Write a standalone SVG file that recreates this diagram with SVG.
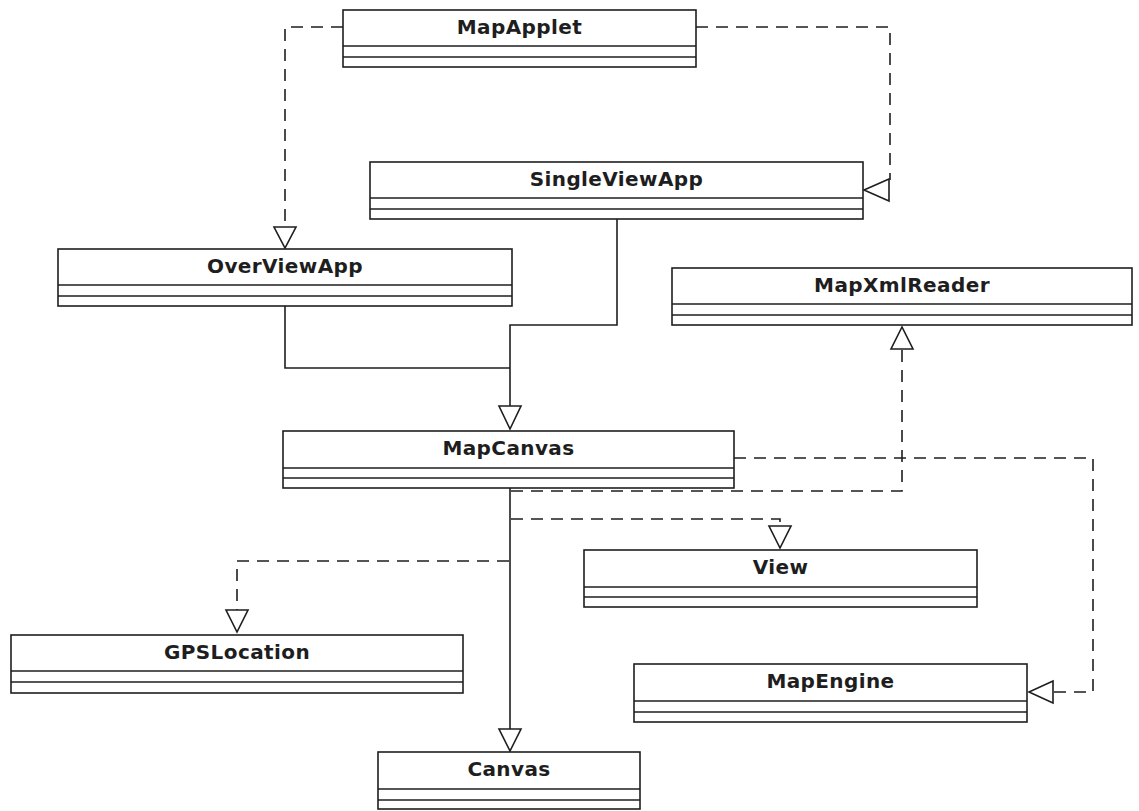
<svg xmlns="http://www.w3.org/2000/svg" width="1139" height="811" viewBox="0 0 1139 811">
<style>
.box{fill:#fff;stroke:#1e1e1e;stroke-width:1.6}
.sep{stroke:#1e1e1e;stroke-width:1.6}
.lbl{font-family:"DejaVu Sans",Verdana,sans-serif;font-weight:bold;font-size:20px;letter-spacing:0.4px;fill:#1e1e1e;text-anchor:middle}
.solid{fill:none;stroke:#1e1e1e;stroke-width:1.6}
.dash{fill:none;stroke:#1e1e1e;stroke-width:1.6;stroke-dasharray:12 8}
.head{fill:#fff;stroke:#1e1e1e;stroke-width:1.6;stroke-linejoin:miter}
</style>
<rect width="1139" height="811" fill="#fff"/>
<g id="connectors">
<path class="dash" d="M343,27 H285 V227"/>
<polygon class="head" points="274,227 296,227 285,248"/>
<path class="dash" d="M696,27 H890 V180"/>
<polygon class="head" points="889,179 889,201 864,190"/>
<path class="solid" d="M285,306 V368 H510"/>
<path class="solid" d="M617,219 V325 H510 V406"/>
<polygon class="head" points="499,406 521,406 510,429"/>
<path class="solid" d="M510,488 V729"/>
<polygon class="head" points="499,729 521,729 510,751"/>
<path class="dash" d="M511,491 H902 V349"/>
<polygon class="head" points="891,349 913,349 902,327"/>
<path class="dash" d="M734,458 H1093 V692 H1053"/>
<polygon class="head" points="1053,681 1053,703 1029,692"/>
<path class="dash" d="M511,519 H780 V526"/>
<polygon class="head" points="769,526 791,526 780,548"/>
<path class="dash" d="M509,561 H237 V610"/>
<polygon class="head" points="226,610 248,610 237,632"/>
</g>
<g id="MapApplet">
<rect class="box" x="343" y="10" width="353" height="57"/>
<line class="sep" x1="343" y1="46" x2="696" y2="46"/>
<line class="sep" x1="343" y1="57" x2="696" y2="57"/>
<text class="lbl" x="519.5" y="34">MapApplet</text>
</g>
<g id="SingleViewApp">
<rect class="box" x="370" y="162" width="493" height="57"/>
<line class="sep" x1="370" y1="198" x2="863" y2="198"/>
<line class="sep" x1="370" y1="209" x2="863" y2="209"/>
<text class="lbl" x="616.5" y="186">SingleViewApp</text>
</g>
<g id="OverViewApp">
<rect class="box" x="58" y="249" width="454" height="57"/>
<line class="sep" x1="58" y1="285" x2="512" y2="285"/>
<line class="sep" x1="58" y1="296" x2="512" y2="296"/>
<text class="lbl" x="285" y="273">OverViewApp</text>
</g>
<g id="MapXmlReader">
<rect class="box" x="672" y="268" width="460" height="57"/>
<line class="sep" x1="672" y1="304" x2="1132" y2="304"/>
<line class="sep" x1="672" y1="315" x2="1132" y2="315"/>
<text class="lbl" x="902" y="292">MapXmlReader</text>
</g>
<g id="MapCanvas">
<rect class="box" x="283" y="431" width="451" height="57"/>
<line class="sep" x1="283" y1="468" x2="734" y2="468"/>
<line class="sep" x1="283" y1="478" x2="734" y2="478"/>
<text class="lbl" x="508.5" y="455">MapCanvas</text>
</g>
<g id="View">
<rect class="box" x="584" y="550" width="393" height="57"/>
<line class="sep" x1="584" y1="587" x2="977" y2="587"/>
<line class="sep" x1="584" y1="597" x2="977" y2="597"/>
<text class="lbl" x="780.5" y="574">View</text>
</g>
<g id="GPSLocation">
<rect class="box" x="11" y="635" width="452" height="58"/>
<line class="sep" x1="11" y1="671" x2="463" y2="671"/>
<line class="sep" x1="11" y1="682" x2="463" y2="682"/>
<text class="lbl" x="237" y="659">GPSLocation</text>
</g>
<g id="MapEngine">
<rect class="box" x="634" y="664" width="393" height="58"/>
<line class="sep" x1="634" y1="701" x2="1027" y2="701"/>
<line class="sep" x1="634" y1="712" x2="1027" y2="712"/>
<text class="lbl" x="830.5" y="688">MapEngine</text>
</g>
<g id="Canvas">
<rect class="box" x="378" y="752" width="262" height="57"/>
<line class="sep" x1="378" y1="789" x2="640" y2="789"/>
<line class="sep" x1="378" y1="800" x2="640" y2="800"/>
<text class="lbl" x="509" y="776">Canvas</text>
</g>
</svg>
